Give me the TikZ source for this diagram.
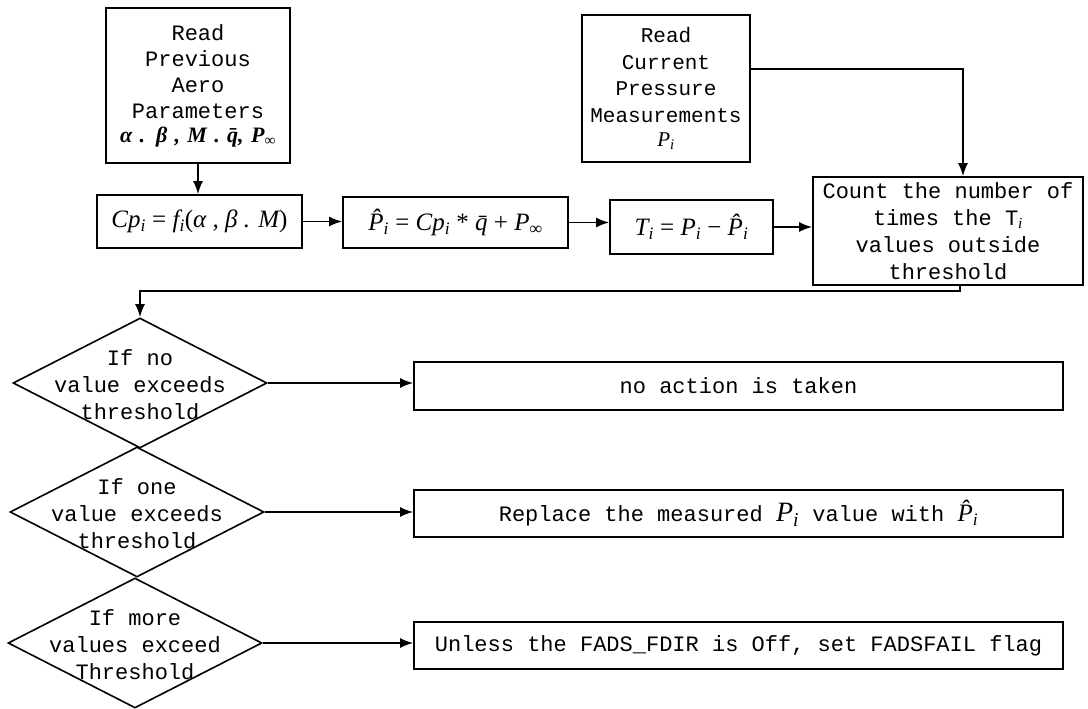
\documentclass[tikz,border=0pt]{standalone}
\usepackage{fontspec}
\setmonofont{Liberation Mono}
\newfontfamily\tms{Liberation Serif}
\usetikzlibrary{shapes.geometric,arrows.meta,calc}
\newcommand{\sbi}[1]{\textsubscript{#1}}
\tikzset{
  box/.style={draw, line width=1.6pt, inner sep=0pt, align=center,
    font=\ttfamily\fontsize{22}{26}\selectfont},
  mbox/.style={draw, line width=1.6pt, inner sep=0pt,
    font=\tms\itshape\fontsize{25}{28}\selectfont},
  dia/.style={draw, diamond, line width=1.6pt, inner sep=0pt,
    minimum width=254pt, minimum height=130pt},
  dtext/.style={align=center, inner sep=0pt,
    font=\ttfamily\fontsize{22}{27}\selectfont},
  arr/.style={line width=1.8pt, -{Latex[length=13pt,width=10pt]}},
}
\begin{document}
\begin{tikzpicture}[x=1pt,y=-1pt]
\useasboundingbox (0,0) rectangle (1088,709);
% top boxes
\node[box, minimum width=184pt, minimum height=155pt, text width=180pt] (A) at (198,85.5)
  {Read\\Previous\\Aero\\Parameters\\[-2pt]{\tms\bfseries\itshape\fontsize{22}{26}\selectfont α . β , M . \={q}, P\sbi{∞}}};
\node[box, minimum width=168pt, minimum height=147pt, text width=165pt,
  font=\ttfamily\fontsize{21}{26.5}\selectfont] (B) at (666,88.5)
  {Read\\Current\\Pressure\\Measurements\\[-2pt]{\tms\itshape P\sbi{i}}};
% formula row
\node[mbox, minimum width=205pt, minimum height=53pt] (cp) at (199.5,221.5)
  {Cp\sbi{i} {\upshape=} f\sbi{i}{\upshape(}α , β . M{\upshape)}};
\node[mbox, minimum width=225pt, minimum height=51pt] (ph) at (455.5,222.5)
  {\^{P}\sbi{i} {\upshape=} Cp\sbi{i} {\upshape*} \={q} {\upshape+} P\sbi{∞}};
\node[mbox, minimum width=163pt, minimum height=54pt] (T) at (691.5,227)
  {T\sbi{i} {\upshape=} P\sbi{i} {\upshape−} \^{P}\sbi{i}};
\node[box, minimum width=270pt, minimum height=108pt,
  font=\ttfamily\fontsize{22}{27}\selectfont] (count) at (948,231)
  {Count the number of\\times the T{\tms\itshape\sbi{i}}\\values outside\\threshold};
% diamonds
\node[dia] (d1) at (140,383) {};
\node[dia] (d2) at (137,512) {};
\node[dia] (d3) at (135,643) {};
\node[dtext] (t1) at (140,385) {If no\\value exceeds\\threshold};
\node[dtext] (t2) at (137,514) {If one\\value exceeds\\threshold};
\node[dtext] (t3) at (135,645) {If more\\values exceed\\Threshold};
% result boxes
\node[box, minimum width=649pt, minimum height=48pt] (n1) at (738.5,386)
  {no action is taken};
\node[box, minimum width=649pt, minimum height=47pt] (n2) at (738.5,513.5)
  {Replace the measured {\tms\itshape\fontsize{28}{28}\selectfont P\sbi{i}} value with {\tms\itshape\fontsize{25}{28}\selectfont \^{P}\sbi{i}}};
\node[box, minimum width=649pt, minimum height=47pt] (n3) at (738.5,645.5)
  {Unless the FADS\_FDIR is Off, set FADSFAIL flag};
% connectors
\draw[arr] (A.south) -- (cp.north -| A.south);
\draw[arr] (cp.east) -- (ph.west |- cp.east);
\draw[arr] (ph.east) -- (T.west |- ph.east);
\draw[arr] (T.east) -- (count.west |- T.east);
\coordinate (bturn) at (963,69);
\draw[arr] (B.east |- bturn) -- (bturn) -- (bturn |- count.north);
\coordinate (cdrop) at (960,291);
\draw[arr] (cdrop |- count.south) -- (cdrop) -| (d1.north);
\draw[arr] (d1.east) -- (n1.west |- d1.east);
\draw[arr] (d2.east) -- (n2.west |- d2.east);
\draw[arr] (d3.east) -- (n3.west |- d3.east);
\end{tikzpicture}
\end{document}
